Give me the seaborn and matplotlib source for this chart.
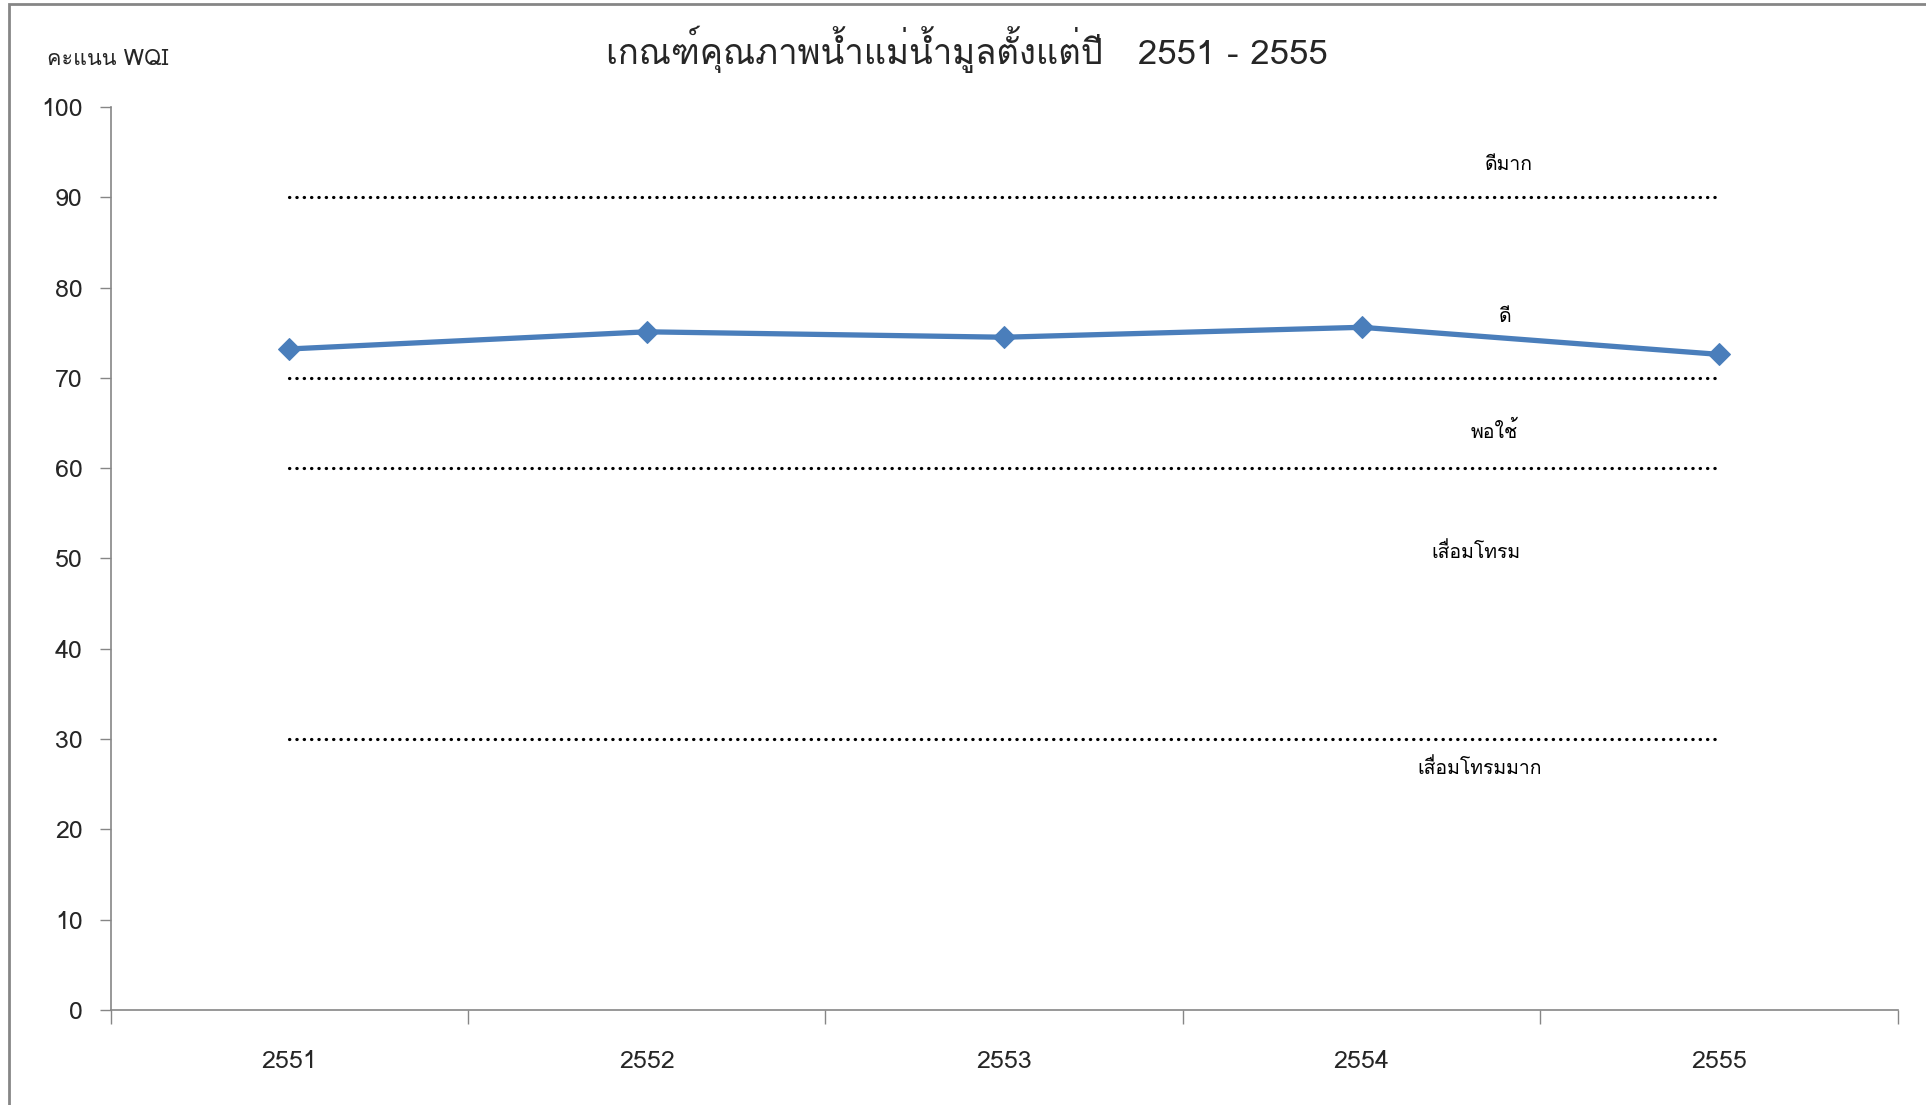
import matplotlib
matplotlib.use("Agg")
import matplotlib.pyplot as plt
import seaborn as sns
import pandas as pd
from matplotlib import font_manager
from matplotlib.ft2font import FT2Font
from matplotlib.patches import Rectangle

# data
years = ["2551", "2552", "2553", "2554", "2555"]
wqi = [73.2, 75.1, 74.5, 75.6, 72.6]

# class boundaries (dotted lines) and class labels with their heights
bounds = [90, 70, 60, 30]
class_names = ["ดีมาก", "ดี", "พอใช้", "เสื่อมโทรม", "เสื่อมโทรมมาก"]
class_label_y = [93.6, 76.7, 64.1, 50.7, 26.8]
class_label_x = [4.41, 4.40, 4.37, 4.32, 4.33]

title = "เกณฑ์คุณภาพน้ำแม่น้ำมูลตั้งแต่ปี   2551 - 2555"
ylabel = "คะแนน WQI"


def thai_family():
    for f in font_manager.fontManager.ttflist:
        try:
            if 0x0E01 in FT2Font(f.fname).get_charmap():
                return f.name
        except Exception:
            pass
    return "DejaVu Sans"


sns.set_style("white")
fam = thai_family()
plt.rcParams["font.family"] = [fam, "DejaVu Sans"]

df = pd.DataFrame({"year": years, "wqi": wqi})
df["pos"] = range(1, len(years) + 1)

fig = plt.figure(figsize=(19.26, 11.05), dpi=100)
ax = fig.add_axes([0.0574, 0.086, 0.928, 0.8172])

line_col = "#4a7ebb"
sns.lineplot(data=df, x="pos", y="wqi", ax=ax, color=line_col, linewidth=3.8,
             marker="D", markersize=11, markeredgecolor=line_col)

x0, x1 = df["pos"].min(), df["pos"].max()
for b in bounds:
    ax.hlines(b, x0, x1, colors="black", linewidth=2.3,
              linestyles=(0, (0.1, 2.2)), capstyle="round")

for name, lx, ly in zip(class_names, class_label_x, class_label_y):
    ax.text(lx, ly, name, fontsize=14, ha="center", va="center", color="black")

ax.set_xlim(0.5, len(years) + 0.5)
ax.set_ylim(0, 100)
ax.set_yticks(range(0, 101, 10))
ax.set_xticks(df["pos"])
ax.set_xticklabels(years)
ax.set_xticks([i + 0.5 for i in range(len(years) + 1)], minor=True)
ax.tick_params(axis="x", which="major", bottom=False, pad=25, labelsize=18)
ax.tick_params(axis="x", which="minor", bottom=True, length=10, color="#868686", width=1)
ax.tick_params(axis="y", left=True, length=8, color="#868686", width=1, labelsize=18, pad=12)
ax.set_xlabel("")
ax.set_ylabel("")

for s in ["top", "right"]:
    ax.spines[s].set_visible(False)
for s in ["left", "bottom"]:
    ax.spines[s].set_color("#868686")
    ax.spines[s].set_linewidth(1.2)

fig.text(0.502, 0.955, title, fontsize=25, ha="center", va="center")
fig.text(0.0245, 0.9465, ylabel, fontsize=15.5, ha="left", va="center")

# chart border
fig.patches.append(Rectangle((0.0045, -0.01), 1.2, 1.006, transform=fig.transFigure,
                             fill=False, edgecolor="#868686", linewidth=2))

fig.savefig("out.png", dpi=100)
